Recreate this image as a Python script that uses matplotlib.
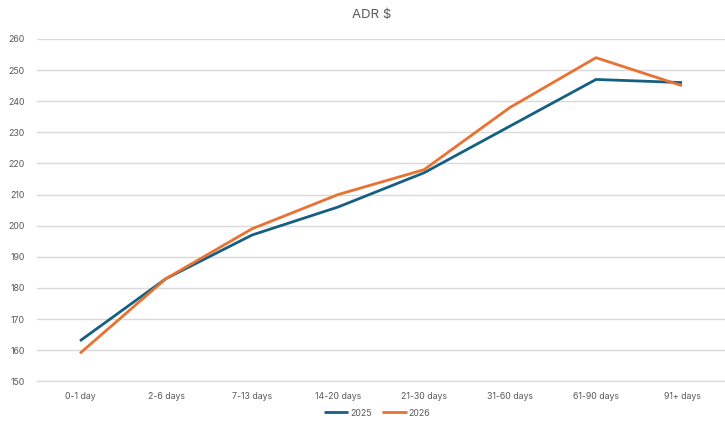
import matplotlib
matplotlib.use("Agg")
from matplotlib import pyplot as plt

categories = ["0-1 day", "2-6 days", "7-13 days", "14-20 days", "21-30 days",
              "31-60 days", "61-90 days", "91+ days"]
adr_2025 = [163, 183, 197, 206, 217, 232, 247, 246]
adr_2026 = [159, 183, 199, 210, 218, 238, 254, 245]
y_ticks = list(range(150, 261, 10))

plt.rcParams['font.family'] = ['Inter', 'DejaVu Sans']
text_color = "#595959"

fig = plt.figure(figsize=(7.25, 4.22), dpi=100)
ax = fig.add_axes([37 / 725, 1 - 381.3 / 422, 688 / 725, 342.3 / 422])

x = list(range(len(categories)))
ax.plot(x, adr_2025, color="#156082", linewidth=2.0, label="2025", solid_capstyle="butt")
ax.plot(x, adr_2026, color="#E97132", linewidth=2.0, label="2026", solid_capstyle="butt")

ax.set_xlim(-0.5, len(categories) - 0.5)
ax.set_ylim(150, 260)
ax.set_yticks(y_ticks)
ax.set_xticks(x)
ax.set_xticklabels(categories)
ax.tick_params(axis="both", length=0, labelsize=6.3, colors=text_color)
ax.tick_params(axis="y", pad=9)
ax.tick_params(axis="x", pad=8)
ax.grid(axis="y", color="#D9D9D9", linewidth=1.0)
ax.set_axisbelow(True)
for side in ["top", "right", "left"]:
    ax.spines[side].set_visible(False)
ax.spines["bottom"].set_color("#D9D9D9")

fig.text(0.512, 1 - 15 / 422, "ADR $", ha="center", va="center",
         fontsize=9.5, color=text_color)

fig.legend(loc="center", bbox_to_anchor=(0.52, 1 - 413 / 422), ncol=2, frameon=False,
           fontsize=6.3, labelcolor=text_color, handlelength=2.8, handletextpad=0.2,
           columnspacing=1.2)

fig.savefig("out.png", dpi=100)
